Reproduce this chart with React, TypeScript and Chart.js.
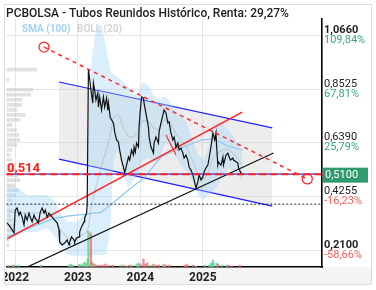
import React, { useEffect, useRef } from 'react';
import { Chart, registerables } from 'chart.js';

Chart.register(...registerables);

// ---------- texts ----------
const titleText = 'PCBOLSA - Tubos Reunidos Histórico, Renta: 29,27%';
const legendLabels = ['SMA (100)', 'BOLL (20)'];

// ---------- axes ----------
const xMin = 2021.857;
const xMax = 2026.905;
const yMin = 0.1443;
const yMax = 1.1317;
const xTickValues = [2022, 2023, 2024, 2025];
const xTickLabels = ['2022', '2023', '2024', '2025'];
const yTickValues = [1.066, 0.8525, 0.639, 0.4255, 0.21];
const yTickLabels = ['1,0660', '0,8525', '0,6390', '0,4255', '0,2100'];
const yPctLabels = ['109,84%', '67,81%', '25,79%', '-16,23%', '-58,66%'];

const lastPrice = 0.51;
const lastPriceLabel = '0,5100';
const levelValue = 0.514;
const levelLabel = '0,514';
const costValue = 0.3945;

// ---------- price (decimal year / price) ----------
const priceT = [
  2021.87, 2021.92, 2021.98, 2022.0, 2022.03, 2022.06, 2022.08, 2022.11, 2022.14, 2022.16,
  2022.19, 2022.22, 2022.24, 2022.27, 2022.3, 2022.32, 2022.37, 2022.4, 2022.43, 2022.46,
  2022.48, 2022.51, 2022.54, 2022.59, 2022.63, 2022.67, 2022.7, 2022.71, 2022.75, 2022.79,
  2022.83, 2022.86, 2022.87, 2022.9, 2022.94, 2022.95, 2022.98, 2023.02, 2023.03, 2023.06,
  2023.1, 2023.11, 2023.14, 2023.15, 2023.17, 2023.21, 2023.24, 2023.25, 2023.27, 2023.29,
  2023.32, 2023.33, 2023.35, 2023.38, 2023.41, 2023.43, 2023.46, 2023.48, 2023.49, 2023.52,
  2023.57, 2023.59, 2023.62, 2023.65, 2023.67, 2023.7, 2023.73, 2023.75, 2023.78, 2023.81,
  2023.83, 2023.86, 2023.89, 2023.9, 2023.92, 2023.94, 2023.97, 2023.98, 2024.0, 2024.02,
  2024.05, 2024.06, 2024.1, 2024.13, 2024.14, 2024.17, 2024.21, 2024.22, 2024.25, 2024.29,
  2024.3, 2024.33, 2024.37, 2024.38, 2024.41, 2024.44, 2024.46, 2024.49, 2024.52, 2024.54,
  2024.57, 2024.6, 2024.62, 2024.65, 2024.68, 2024.7, 2024.73, 2024.76, 2024.78, 2024.81,
  2024.84, 2024.86, 2024.89, 2024.92, 2024.94, 2024.97, 2025.0, 2025.02, 2025.05, 2025.08,
  2025.1, 2025.13, 2025.16, 2025.17, 2025.19, 2025.21, 2025.22, 2025.24, 2025.25, 2025.29,
  2025.32, 2025.33, 2025.37, 2025.4, 2025.41, 2025.44, 2025.48, 2025.49, 2025.56, 2025.57,
  2025.6, 2025.63,
];
const priceV = [
  0.32, 0.304, 0.28, 0.371, 0.379, 0.351, 0.363, 0.343, 0.312, 0.351,
  0.331, 0.359, 0.343, 0.324, 0.351, 0.339, 0.32, 0.363, 0.379, 0.359,
  0.371, 0.343, 0.359, 0.343, 0.331, 0.32, 0.292, 0.244, 0.232, 0.24,
  0.252, 0.232, 0.244, 0.264, 0.252, 0.244, 0.26, 0.264, 0.284, 0.304,
  0.324, 0.339, 0.359, 0.391, 0.933, 0.849, 0.797, 0.877, 0.849, 0.809,
  0.837, 0.781, 0.821, 0.769, 0.821, 0.781, 0.817, 0.769, 0.797, 0.738,
  0.718, 0.682, 0.65, 0.642, 0.61, 0.57, 0.542, 0.519, 0.55, 0.582,
  0.57, 0.61, 0.59, 0.622, 0.602, 0.638, 0.622, 0.702, 0.769, 0.821,
  0.817, 0.797, 0.742, 0.702, 0.662, 0.622, 0.598, 0.638, 0.662, 0.638,
  0.682, 0.718, 0.758, 0.769, 0.758, 0.718, 0.722, 0.678, 0.65, 0.662,
  0.622, 0.638, 0.61, 0.618, 0.598, 0.578, 0.59, 0.57, 0.542, 0.53,
  0.511, 0.491, 0.459, 0.483, 0.511, 0.491, 0.503, 0.523, 0.539, 0.55,
  0.578, 0.622, 0.678, 0.67, 0.65, 0.678, 0.622, 0.55, 0.562, 0.55,
  0.582, 0.55, 0.59, 0.598, 0.59, 0.57, 0.578, 0.57, 0.558, 0.539,
  0.523, 0.511,
];

// ---------- Bollinger (20) ----------
const bollT = [
  2021.87, 2022.03, 2022.19, 2022.35, 2022.51, 2022.62, 2022.71, 2022.83, 2022.98, 2023.14,
  2023.17, 2023.22, 2023.3, 2023.38, 2023.46, 2023.52, 2023.57, 2023.65, 2023.73, 2023.81,
  2023.89, 2023.97, 2024.03, 2024.13, 2024.21, 2024.3, 2024.38, 2024.46, 2024.56, 2024.65,
  2024.75, 2024.84, 2024.92, 2025.02, 2025.1, 2025.16, 2025.24, 2025.32, 2025.41, 2025.52,
  2025.63,
];
const bollUpper = [
  0.471, 0.459, 0.431, 0.431, 0.431, 0.411, 0.363, 0.324, 0.324, 0.363,
  0.73, 0.968, 1.104, 1.108, 1.008, 0.929, 0.913, 0.897, 0.881, 0.861,
  0.829, 0.841, 0.881, 0.869, 0.829, 0.809, 0.825, 0.809, 0.761, 0.749,
  0.71, 0.65, 0.59, 0.57, 0.63, 0.71, 0.722, 0.71, 0.69, 0.65,
  0.61,
];
const bollLower = [
  0.252, 0.272, 0.284, 0.284, 0.3, 0.272, 0.232, 0.192, 0.188, 0.188,
  0.188, 0.188, 0.192, 0.192, 0.196, 0.292, 0.57, 0.61, 0.511, 0.459,
  0.491, 0.523, 0.57, 0.578, 0.562, 0.57, 0.63, 0.638, 0.59, 0.55,
  0.523, 0.483, 0.431, 0.411, 0.431, 0.443, 0.471, 0.511, 0.538, 0.523,
  0.491,
];
const bollMid = [
  0.363, 0.363, 0.359, 0.359, 0.363, 0.343, 0.3, 0.26, 0.256, 0.284,
  0.3, 0.391, 0.471, 0.55, 0.61, 0.67, 0.741, 0.753, 0.698, 0.662,
  0.662, 0.682, 0.726, 0.726, 0.698, 0.69, 0.73, 0.726, 0.678, 0.65,
  0.618, 0.566, 0.511, 0.491, 0.531, 0.578, 0.598, 0.61, 0.614, 0.586,
  0.55,
];

// ---------- SMA (100) ----------
const smaT = [
  2021.87, 2022.11, 2022.35, 2022.59, 2022.83, 2023.14, 2023.38, 2023.62, 2023.81, 2024.06,
  2024.33, 2024.57, 2024.81, 2024.97, 2025.17, 2025.4, 2025.63,
];
const smaV = [
  0.264, 0.288, 0.312, 0.335, 0.347, 0.355, 0.363, 0.411, 0.451, 0.499,
  0.582, 0.61, 0.634, 0.65, 0.654, 0.626, 0.61,
];

// ---------- volume ----------
const volT = [
  2021.89, 2021.95, 2021.98, 2022.05, 2022.21, 2022.41, 2022.86, 2022.89, 2022.92, 2023.02,
  2023.06, 2023.1, 2023.13, 2023.16, 2023.17, 2023.21, 2023.22, 2023.24, 2023.27, 2023.3,
  2023.35, 2023.4, 2023.44, 2023.49, 2023.56, 2023.68, 2023.73, 2023.78, 2023.83, 2023.87,
  2023.94, 2023.97, 2024.0, 2024.05, 2024.08, 2024.11, 2024.16, 2024.21, 2024.25, 2024.3,
  2024.37, 2024.38, 2024.41, 2024.46, 2024.71, 2024.75, 2024.84, 2024.89, 2025.03, 2025.1,
  2025.13, 2025.16, 2025.17, 2025.22, 2025.24, 2025.3, 2025.38, 2025.41, 2025.46, 2025.59,
];
const volV = [
  100, 100, 100, 100, 50, 100, 100, 150, 100, 150,
  150, 250, 200, 400, 1800, 1700, 250, 200, 150, 100,
  100, 100, 150, 100, 100, 100, 100, 50, 100, 100,
  150, 200, 150, 400, 150, 200, 100, 150, 100, 100,
  100, 150, 100, 100, 100, 150, 100, 50, 100, 100,
  200, 350, 200, 200, 150, 100, 100, 100, 50, 100,
];
const volUp = [
  1, 0, 1, 1, 1, 1, 1, 1, 1, 1,
  1, 1, 1, 1, 1, 0, 0, 1, 0, 0,
  0, 0, 0, 0, 0, 1, 0, 1, 0, 1,
  1, 1, 0, 0, 0, 0, 1, 0, 0, 0,
  0, 1, 0, 0, 0, 0, 0, 1, 1, 1,
  1, 1, 1, 1, 0, 1, 1, 0, 0, 0,
];
const volMax = 12400;

// ---------- volume profile ----------
const vpLevels = [
  0.93, 0.91, 0.89, 0.87, 0.85, 0.83, 0.81, 0.79, 0.77, 0.75,
  0.73, 0.71, 0.69, 0.67, 0.65, 0.63, 0.61, 0.59, 0.57, 0.55,
  0.53, 0.51, 0.49, 0.47, 0.45, 0.43, 0.41, 0.39, 0.37, 0.35,
  0.33, 0.31, 0.29, 0.27, 0.25, 0.23,
];
const vpVolume = [
  93, 0, 9, 0, 81, 75, 48, 48, 33, 57,
  42, 18, 33, 39, 42, 33, 18, 12, 18, 27,
  30, 36, 42, 27, 39, 30, 18, 12, 18, 15,
  21, 24, 18, 12, 9, 9,
];
const vpMax = 954;

// ---------- drawn lines (endpoints) ----------
const channelUpperT = [2022.7, 2026.11];
const channelUpperV = [0.881, 0.698];
const channelLowerT = [2022.7, 2026.11];
const channelLowerV = [0.574, 0.387];
const redTrendT = [2021.87, 2025.63];
const redTrendV = [0.256, 0.761];
const blackTrendT = [2022.19, 2026.13];
const blackTrendV = [0.144, 0.598];
const downTrendT = [2022.46, 2026.67];
const downTrendV = [1.02, 0.495];
const shortRedT = [2024.41, 2024.57];
const shortRedV = [0.67, 0.59];

const pts = (t: number[], v: number[]) => t.map((x, i) => ({ x, y: v[i] }));
const hline = (v: number) => [
  { x: xMin, y: v },
  { x: xMax, y: v },
];

const FONT = 'Roboto';

const decor = {
  id: 'decor',
  beforeDraw(chart: any) {
    const ctx = chart.ctx;
    const ca = chart.chartArea;
    ctx.save();
    ctx.fillStyle = '#ffffff';
    ctx.fillRect(0, 0, chart.width, chart.height);
    ctx.fillStyle = '#f4f4f4';
    ctx.fillRect(4, ca.bottom, 367, 284 - ca.bottom);
    ctx.restore();
  },
  afterDraw(chart: any) {
    const ctx = chart.ctx;
    const ca = chart.chartArea;
    const ys = chart.scales.y;
    ctx.save();
    ctx.fillStyle = '#ffffff';
    ctx.fillRect(0, ca.bottom + 1, 4, chart.height - ca.bottom);
    ctx.strokeStyle = '#dddddd';
    ctx.lineWidth = 1;
    ctx.strokeRect(4.5, 4.5, 367, 280);
    ctx.fillStyle = '#222222';
    ctx.font = `500 12px ${FONT}`;
    ctx.textBaseline = 'alphabetic';
    ctx.textAlign = 'left';
    ctx.fillText(titleText, 6, 16.5);
    ctx.font = `bold 10px ${FONT}`;
    ctx.fillStyle = '#a3d2f6';
    ctx.fillText(legendLabels[0], 22, 31.5);
    ctx.fillStyle = '#d6d6d6';
    ctx.fillText(legendLabels[1], 77, 31.5);
    ctx.textBaseline = 'middle';
    yTickValues.forEach((v, i) => {
      const py = ys.getPixelForValue(v);
      const edge = i === 0 || i === yTickValues.length - 1;
      ctx.font = `${edge ? 'bold ' : ''}11px ${FONT}`;
      ctx.fillStyle = '#222222';
      ctx.fillText(yTickLabels[i], ca.right + 2, py - 5);
      ctx.font = `11px ${FONT}`;
      ctx.fillStyle = yPctLabels[i].startsWith('-') ? '#f25f5f' : '#3aa878';
      ctx.fillText(yPctLabels[i], ca.right + 2, py + 5);
    });
    const lp = ys.getPixelForValue(lastPrice);
    ctx.fillStyle = '#2f9c6e';
    ctx.fillRect(ca.right + 1, lp - 7.5, 45, 15);
    ctx.fillStyle = '#ffffff';
    ctx.font = `11px ${FONT}`;
    ctx.fillText(lastPriceLabel, ca.right + 3, lp + 0.5);
    const lv = ys.getPixelForValue(levelValue);
    ctx.fillStyle = '#ff1f1f';
    ctx.font = `bold 13px ${FONT}`;
    ctx.textBaseline = 'alphabetic';
    ctx.fillText(levelLabel, 7, lv - 2.5);
    ctx.restore();
  },
};

export default function App() {
  const ref = useRef<HTMLCanvasElement>(null);
  useEffect(() => {
    if (!ref.current) return;
    const chart = new Chart(ref.current, {
      type: 'line',
      data: {
        datasets: [
          {
            type: 'bar',
            label: 'vp',
            indexAxis: 'y',
            xAxisID: 'xvp',
            yAxisID: 'y',
            data: vpLevels.map((l, i) => ({ x: vpVolume[i], y: l })),
            backgroundColor: 'rgba(200,200,200,0.55)',
            categoryPercentage: 0.8,
            barPercentage: 0.9,
            grouped: false,
            order: 20,
          } as any,
          {
            label: 'chU',
            data: pts(channelUpperT, channelUpperV),
            borderColor: '#1f1fff',
            borderWidth: 1.2,
            pointRadius: 0,
            fill: '+1',
            backgroundColor: 'rgba(195,195,195,0.3)',
            order: 19,
          },
          {
            label: 'chL',
            data: pts(channelLowerT, channelLowerV),
            borderColor: '#1f1fff',
            borderWidth: 1.2,
            pointRadius: 0,
            fill: false,
            order: 18,
          },
          {
            label: 'bU',
            data: pts(bollT, bollUpper),
            borderColor: 'transparent',
            pointRadius: 0,
            fill: '+1',
            backgroundColor: 'rgba(160,210,245,0.38)',
            order: 17,
          },
          {
            label: 'bL',
            data: pts(bollT, bollLower),
            borderColor: 'transparent',
            pointRadius: 0,
            fill: false,
            order: 16,
          },
          {
            label: 'bM',
            data: pts(bollT, bollMid),
            borderColor: 'rgba(160,160,160,0.45)',
            borderWidth: 1,
            pointRadius: 0,
            fill: false,
            order: 15,
          },
          {
            label: 'sma',
            data: pts(smaT, smaV),
            borderColor: '#8ec7f1',
            borderWidth: 1.2,
            pointRadius: 0,
            fill: false,
            order: 14,
          },
          {
            type: 'bar',
            label: 'vol',
            xAxisID: 'x',
            yAxisID: 'yvol',
            data: pts(volT, volV),
            backgroundColor: volUp.map((u) => (u ? 'rgba(90,205,140,0.75)' : 'rgba(240,105,105,0.75)')),
            barThickness: 1.6,
            grouped: false,
            order: 13,
          } as any,
          {
            label: 'cost',
            data: hline(costValue),
            borderColor: '#222222',
            borderWidth: 1,
            borderDash: [2, 2],
            pointRadius: 0,
            fill: false,
            order: 12,
          },
          {
            label: 'redTrend',
            data: pts(redTrendT, redTrendV),
            borderColor: '#ff2222',
            borderWidth: 1.5,
            pointRadius: 0,
            fill: false,
            order: 10,
          },
          {
            label: 'blackTrend',
            data: pts(blackTrendT, blackTrendV),
            borderColor: '#111111',
            borderWidth: 1.2,
            pointRadius: 0,
            fill: false,
            order: 10,
          },
          {
            label: 'price',
            data: pts(priceT, priceV),
            borderColor: '#111111',
            borderWidth: 1.2,
            pointRadius: 0,
            fill: false,
            order: 5,
          },
          {
            label: 'levelBlue',
            data: hline(levelValue),
            borderColor: '#2233ee',
            borderWidth: 1.4,
            pointRadius: 0,
            fill: false,
            order: 4,
          },
          {
            label: 'levelRed',
            data: hline(levelValue),
            borderColor: '#ff1f1f',
            borderWidth: 2,
            borderDash: [7, 4],
            pointRadius: 0,
            fill: false,
            order: 3,
          },
          {
            label: 'down',
            data: pts(downTrendT, downTrendV),
            borderColor: '#ff2a2a',
            borderWidth: 1.5,
            borderDash: [4, 4],
            pointRadius: 5,
            pointBorderColor: '#ff2a2a',
            pointBackgroundColor: 'rgba(0,0,0,0)',
            pointBorderWidth: 1.3,
            fill: false,
            order: 2,
          },
          {
            label: 'shortRed',
            data: pts(shortRedT, shortRedV),
            borderColor: '#ff3030',
            borderWidth: 1.2,
            pointRadius: 0,
            fill: false,
            order: 1,
          },
        ],
      },
      options: {
        animation: false,
        responsive: false,
        devicePixelRatio: 1,
        events: [],
        layout: { padding: { left: 4, top: 19, right: 0, bottom: 0 } },
        elements: { line: { tension: 0 } },
        plugins: { legend: { display: false }, tooltip: { enabled: false }, title: { display: false } },
        scales: {
          x: {
            type: 'linear',
            position: 'bottom',
            offset: false,
            min: xMin,
            max: xMax,
            afterBuildTicks: (s: any) => {
              s.ticks = xTickValues.map((v) => ({ value: v }));
            },
            afterFit: (s: any) => {
              s.height = 23;
              s.paddingLeft = 0;
              s.paddingRight = 0;
            },
            grid: { color: '#e6e6e6', drawTicks: false, offset: false },
            border: { display: true, color: '#000000', width: 1.6 },
            ticks: {
              autoSkip: false,
              maxRotation: 0,
              padding: 4,
              color: '#222222',
              font: { family: FONT, weight: 'bold', size: 12 },
              callback: (v: any) => {
                const i = xTickValues.indexOf(Number(v));
                return i >= 0 ? xTickLabels[i] : '';
              },
            },
          },
          y: {
            type: 'linear',
            position: 'right',
            offset: false,
            min: yMin,
            max: yMax,
            afterBuildTicks: (s: any) => {
              s.ticks = yTickValues.map((v) => ({ value: v }));
            },
            afterFit: (s: any) => {
              s.width = 54;
              s.paddingTop = 0;
              s.paddingBottom = 0;
            },
            grid: { color: '#e6e6e6', drawTicks: false, offset: false },
            border: { display: true, color: '#000000', width: 1.6 },
            ticks: { display: false },
          },
          xvp: { type: 'linear', axis: 'x', position: 'bottom', display: false, offset: false, min: 0, max: vpMax },
          yvol: { type: 'linear', axis: 'y', position: 'left', display: false, offset: false, min: 0, max: volMax },
        } as any,
      },
      plugins: [decor],
    } as any);
    return () => chart.destroy();
  }, []);
  return (
    <div style={{ position: 'absolute', left: 0, top: 0, width: 376, height: 290 }}>
      <canvas ref={ref} width={376} height={290} style={{ display: 'block', width: 376, height: 290 }} />
    </div>
  );
}
